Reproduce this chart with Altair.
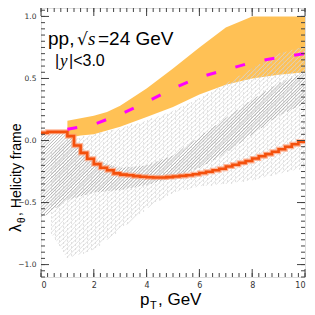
import altair as alt
import numpy as np
import pandas as pd

# ---------------- data ----------------
# stepped curve (bins of 0.25 GeV)
step_edges = [i * 0.25 for i in range(40)]
step_vals = [0.062, 0.07, 0.07, 0.07, 0.035, -0.04, -0.10, -0.147,
             -0.19, -0.22, -0.24, -0.265, -0.275, -0.28, -0.287, -0.292,
             -0.296, -0.298, -0.298, -0.295, -0.29, -0.285, -0.28, -0.272,
             -0.262, -0.252, -0.24, -0.228, -0.21, -0.195, -0.18, -0.165,
             -0.145, -0.127, -0.11, -0.09, -0.07, -0.05, -0.03, -0.01]

# orange band
band_x = [1.0, 1.5, 2.0, 2.5, 3.0, 4.0, 5.0, 6.0, 7.0, 8.0, 9.0, 10.0]
band_lo = [0.02, 0.04, 0.05, 0.08, 0.11, 0.19, 0.27, 0.37, 0.45, 0.50, 0.53, 0.55]
band_hi = [0.16, 0.18, 0.20, 0.23, 0.28, 0.42, 0.58, 0.75, 0.91, 1.00, 1.00, 1.00]

# magenta dashed curve
dash_x = [1, 2, 3, 4, 5, 6, 7, 8, 9, 10]
dash_y = [0.09, 0.13, 0.21, 0.31, 0.42, 0.51, 0.57, 0.63, 0.67, 0.70]

# dark hatched band
ha_x = [0, 1, 2, 3, 4, 5, 6, 7, 8, 9, 10]
ha_lo = [-0.63, -0.48, -0.42, -0.40, -0.36, -0.30, -0.22, -0.10, 0.05, 0.20, 0.30]
ha_hi = [0.07, 0.06, -0.15, -0.22, -0.20, -0.12, 0.03, 0.18, 0.33, 0.46, 0.55]

# light dotted band
hb_x = [0.4, 1.0, 2.0, 3.0, 4.0, 5.0, 6.0, 7.0, 8.0, 9.0, 10.0]
hb_lo = [-0.75, -0.95, -0.88, -0.72, -0.55, -0.42, -0.37, -0.35, -0.32, -0.27, -0.22]
hb_hi = [-0.10, 0.00, 0.05, 0.10, 0.16, 0.24, 0.34, 0.46, 0.58, 0.70, 0.76]

y_ticks = [-1.0, -0.5, 0.0, 0.5, 1.0]
x_ticks = [0, 2, 4, 6, 8, 10]

# ---------------- layout ----------------
W, H = 264, 269
XD = [0, 10]
YD = [-1.1, 1.068]
pxx = W / (XD[1] - XD[0])
pxy = H / (YD[1] - YD[0])

xs = alt.Scale(domain=XD, nice=False, zero=False)
ys = alt.Scale(domain=YD, nice=False, zero=False)


def hatch(bx, blo, bhi, spacing_px):
    k = pxx / pxy  # 45 degree in pixel space
    xx = np.linspace(bx[0], bx[-1], 1200)
    lo = np.interp(xx, bx, blo)
    hi = np.interp(xx, bx, bhi)
    dc = spacing_px / pxy
    cmin = (lo - k * xx).min()
    cmax = (hi - k * xx).max()
    rows = []
    c = cmin
    while c <= cmax:
        yl = k * xx + c
        ins = (yl >= lo) & (yl <= hi) & (yl >= YD[0]) & (yl <= YD[1])
        i = 0
        n = len(xx)
        while i < n:
            if ins[i]:
                j = i
                while j + 1 < n and ins[j + 1]:
                    j += 1
                rows.append({"x": xx[i], "y": yl[i], "x2": xx[j], "y2": yl[j]})
                i = j + 1
            else:
                i += 1
        c += dc
    return pd.DataFrame(rows)


def dots(bx, blo, bhi, step_px):
    rows = []
    gx = np.arange(bx[0], bx[-1], step_px / pxx)
    for r, x in enumerate(gx):
        lo = np.interp(x, bx, blo)
        hi = np.interp(x, bx, bhi)
        off = (r % 2) * step_px / pxy / 2
        y = YD[0] + off
        while y <= YD[1]:
            if lo <= y <= hi:
                rows.append({"x": x, "y": y})
            y += step_px / pxy
    return pd.DataFrame(rows)


hA = hatch(ha_x, ha_lo, ha_hi, 3.2)
hB = hatch(hb_x, hb_lo, hb_hi, 4.5)
dB = dots(hb_x, hb_lo, hb_hi, 4.0)

band_df = pd.DataFrame({"x": band_x, "lo": band_lo, "hi": band_hi})
dash_df = pd.DataFrame({"x": dash_x, "y": dash_y})
step_df = pd.DataFrame({"x": step_edges + [10.0], "y": step_vals + [step_vals[-1]]})

band = alt.Chart(band_df).mark_area(color="#FFBE4C", opacity=0.95).encode(
    x=alt.X("x:Q", scale=xs, axis=alt.Axis(values=x_ticks, format="d", ticks=False, domain=False,
                                           grid=False, labelFontSize=8, labelColor="#333",
                                           labelPadding=4, labelFont="DejaVu Sans", title=None)),
    y=alt.Y("lo:Q", scale=ys, axis=alt.Axis(values=y_ticks, format=".1f", ticks=False, domain=False,
                                            grid=False, labelFontSize=7.5, labelColor="#333",
                                            labelPadding=5, labelFont="DejaVu Sans", title=None)),
    y2="hi:Q",
)

hatchB = alt.Chart(hB).mark_rule(color="#d8d8d8", strokeWidth=0.8).encode(
    x=alt.X("x:Q", scale=xs), y=alt.Y("y:Q", scale=ys), x2="x2:Q", y2="y2:Q")
dotsB = alt.Chart(dB).mark_square(color="#c4c4c4", size=1.1, opacity=1).encode(
    x=alt.X("x:Q", scale=xs), y=alt.Y("y:Q", scale=ys))
hatchA = alt.Chart(hA).mark_rule(color="#a4a4a4", strokeWidth=0.8).encode(
    x=alt.X("x:Q", scale=xs), y=alt.Y("y:Q", scale=ys), x2="x2:Q", y2="y2:Q")

step_glow = alt.Chart(step_df).mark_line(interpolate="step-after", color="#FF9A70", strokeWidth=5,
                                         opacity=0.7).encode(
    x=alt.X("x:Q", scale=xs), y=alt.Y("y:Q", scale=ys))
step = alt.Chart(step_df).mark_line(interpolate="step-after", color="#F4500C", strokeWidth=2.6).encode(
    x=alt.X("x:Q", scale=xs), y=alt.Y("y:Q", scale=ys))

dashed = alt.Chart(dash_df).mark_line(color="#FF00FF", strokeWidth=3, strokeDash=[10, 20]).encode(
    x=alt.X("x:Q", scale=xs), y=alt.Y("y:Q", scale=ys))

# ticks (inward)
ymaj = pd.DataFrame({"v": y_ticks})
ymin = pd.DataFrame({"v": [round(-1.1 + 0.05 * i, 3) for i in range(44)]})
xmaj = pd.DataFrame({"v": x_ticks})
xmin = pd.DataFrame({"v": [0.25 * i for i in range(41)]})
TC = "#444"


def yt(df, L):
    a = alt.Chart(df).mark_rule(color=TC, strokeWidth=1).encode(
        y=alt.Y("v:Q", scale=ys), x=alt.value(0), x2=alt.value(L))
    b = alt.Chart(df).mark_rule(color=TC, strokeWidth=1).encode(
        y=alt.Y("v:Q", scale=ys), x=alt.value(W), x2=alt.value(W - L))
    return a + b


def xt(df, L):
    a = alt.Chart(df).mark_rule(color=TC, strokeWidth=1).encode(
        x=alt.X("v:Q", scale=xs), y=alt.value(H), y2=alt.value(H - L))
    b = alt.Chart(df).mark_rule(color=TC, strokeWidth=1).encode(
        x=alt.X("v:Q", scale=xs), y=alt.value(0), y2=alt.value(L))
    return a + b


ticks = yt(ymin, 4) + yt(ymaj, 8) + xt(xmin, 4) + xt(xmaj, 8)

# texts
def txt(s, x, y, size, font="Liberation Sans", style="normal", angle=0, align="left",
        baseline="alphabetic"):
    return alt.Chart(pd.DataFrame({"t": [s]})).mark_text(
        font=font, fontSize=size, fontStyle=style, angle=angle, align=align, baseline=baseline,
        color="black").encode(text="t:N", x=alt.value(x), y=alt.value(y))


texts = (
    txt("pp,", 7, 37, 19)
    + txt("√", 36, 37, 17, font="DejaVu Sans")
    + txt("s", 47, 37, 19, font="Liberation Serif", style="italic")
    + txt("=24 GeV", 57, 37, 19)
    + txt("|", 14, 58, 16)
    + txt("y", 19, 58, 17, font="Liberation Serif", style="italic")
    + txt("|<3.0", 28, 58, 16)
    + txt("p", 99, 297, 17)
    + txt("T", 109, 301, 11)
    + txt(", GeV", 117, 297, 17)
    + txt("λ", -20, 224, 16, angle=270)
    + txt("θ", -16, 215, 10, angle=270)
    + txt(", Helicity frame", -20, 208, 14, angle=270)
)

chart = alt.layer(band, dotsB, hatchB, hatchA, step_glow, step, dashed, ticks, texts).properties(
    width=W, height=H,
    autosize=alt.AutoSizeParams(type="none"),
    padding={"left": 33, "top": 0, "right": 2, "bottom": 38},
).configure_view(stroke="#333", strokeWidth=1).configure(background="white")

chart.save("out.html", embed_options={"renderer": "svg", "actions": False})
